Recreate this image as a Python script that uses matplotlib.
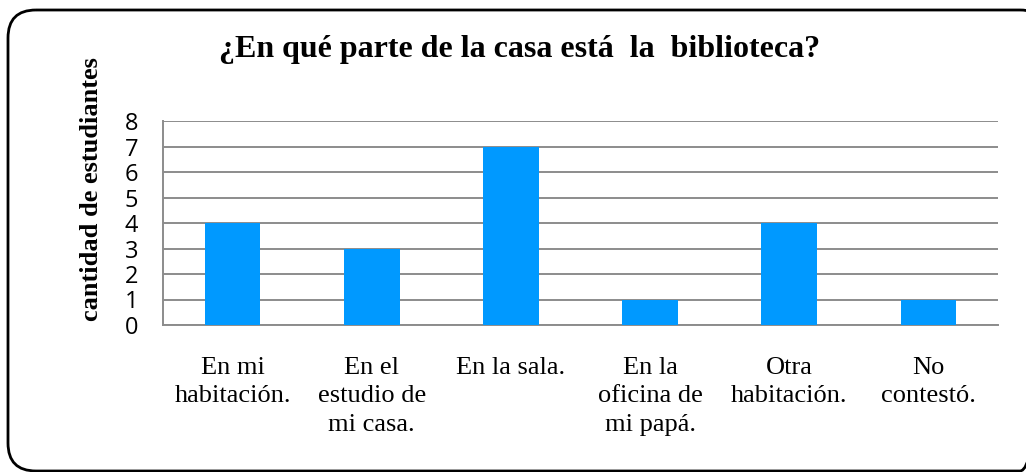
import matplotlib.pyplot as plt
from matplotlib.patches import FancyBboxPatch

categories = ["En mi\nhabitación.", "En el\nestudio de\nmi casa.", "En la sala.",
              "En la\noficina de\nmi papá.", "Otra\nhabitación.", "No\ncontestó."]
values = [4, 3, 7, 1, 4, 1]
y_ticks = [0, 1, 2, 3, 4, 5, 6, 7, 8]

title = "¿En qué parte de la casa está  la  biblioteca?"
y_label = "cantidad de estudiantes"

serif = ["Liberation Serif", "DejaVu Serif"]
sans = ["Open Sans", "DejaVu Sans"]

W, H = 1026, 472
fig = plt.figure(figsize=(W / 100, H / 100), dpi=100)

# Background axes in pixel units, used for the rounded outer frame
bg = fig.add_axes([0, 0, 1, 1])
bg.set_xlim(0, W)
bg.set_ylim(H, 0)
bg.axis("off")
bg.add_patch(FancyBboxPatch((8, 10), 1040, 461,
                            boxstyle="round,pad=0,rounding_size=28",
                            fill=False, edgecolor="black", linewidth=2,
                            clip_on=False))

ax = fig.add_axes([163 / W, 1 - 325 / H, 835 / W, 204 / H])
x = range(len(categories))
ax.bar(x, values, width=0.4, color="#0099FF", zorder=3)

ax.set_xlim(-0.5, len(categories) - 0.5)
ax.set_ylim(0, 8)
ax.set_yticks(y_ticks)
ax.set_yticklabels([str(t) for t in y_ticks], family=sans, fontsize=17)
ax.set_xticks(list(x))
ax.set_xticklabels(categories, family=serif, fontsize=19, linespacing=1.38, va="top")
ax.tick_params(axis="both", length=0)
ax.tick_params(axis="x", pad=23)
ax.tick_params(axis="y", pad=18)

ax.grid(axis="y", color="#8c8c8c", linewidth=1.4, zorder=0)
for side in ["top", "right"]:
    ax.spines[side].set_visible(False)
for side in ["left", "bottom"]:
    ax.spines[side].set_color("#8c8c8c")
    ax.spines[side].set_linewidth(1.4)

fig.text(520 / W, 1 - 50 / H, title, ha="center", va="center",
         family=serif, fontsize=23, fontweight="bold")
fig.text(92 / W, 1 - 189 / H, y_label, ha="center", va="center", rotation=90,
         family=serif, fontsize=19, fontweight="bold")

fig.savefig("out.png", dpi=100)
